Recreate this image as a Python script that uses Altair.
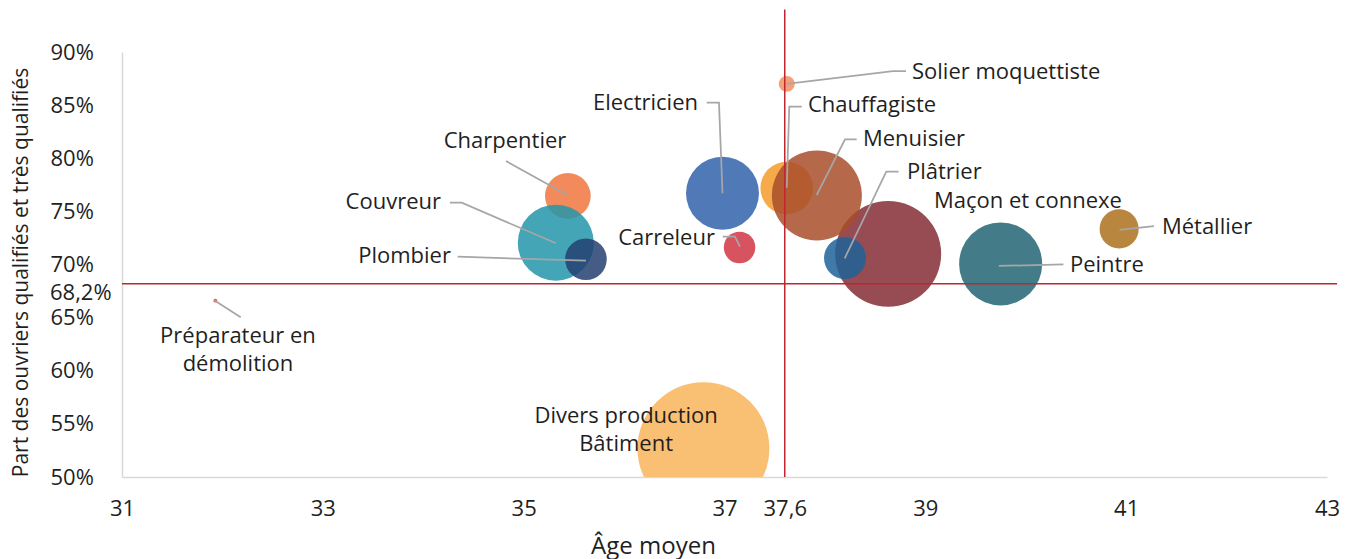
import altair as alt
import pandas as pd

# ---- Données ----
metiers = [
    "Divers production Bâtiment", "Maçon et connexe", "Peintre", "Charpentier",
    "Couvreur", "Electricien", "Chauffagiste", "Menuisier", "Plombier",
    "Plâtrier", "Métallier", "Carreleur", "Solier moquettiste",
    "Préparateur en démolition",
]
age_moyen = [36.79, 38.63, 39.75, 35.44, 35.32, 36.98, 37.62, 37.92, 35.62,
             38.20, 40.93, 37.15, 37.62, 31.93]
part_qualifies = [52.7, 71.0, 70.05, 76.45, 72.05, 76.7, 77.2, 76.5, 70.5,
                  70.6, 73.35, 71.6, 87.0, 66.6]
effectif = [68.4, 44.1, 27.1, 8.2, 22.7, 20.9, 10.9, 31.8, 6.8, 6.9, 6.0,
            3.9, 1.0, 0.06]
couleurs = ["#F8B45B", "#852B35", "#226573", "#F1753E", "#2295A9", "#3161AC",
            "#F49B2A", "#A84D2A", "#253F72", "#1D6399", "#AD711E", "#D03543",
            "#F38F60", "#DB4954"]

age_moyen_global = 37.6
part_moyenne_globale = 68.2

x_ticks = [31, 33, 35, 37, 37.6, 39, 41, 43]
y_ticks = [50, 55, 60, 65, 70, 75, 80, 85, 90]

# Étiquettes (position d'ancrage en unités des axes)
label_texte = ["Divers production\nBâtiment", "Maçon et connexe", "Peintre",
               "Charpentier", "Couvreur", "Electricien", "Chauffagiste",
               "Menuisier", "Plombier", "Plâtrier", "Métallier", "Carreleur",
               "Solier moquettiste", "Préparateur en\ndémolition"]
label_x = [36.02, 39.086, 40.44, 34.814, 34.177, 36.736, 37.831, 38.379,
           34.276, 38.817, 41.356, 36.905, 38.867, 32.155]
label_y = [55.74, 75.98, 69.95, 81.62, 75.88, 85.20, 85.01, 81.81, 70.80,
           78.71, 73.53, 72.49, 88.12, 63.27]
label_ancre = ["center", "left", "left", "center", "right", "right", "left",
               "left", "right", "left", "left", "right", "left", "center"]

# Traits de rappel (polylignes, unités des axes)
rappel_metier = (["Solier"] * 3 + ["Chauffagiste"] * 3 + ["Electricien"] * 3 +
                 ["Menuisier"] * 3 + ["Plâtrier"] * 3 + ["Métallier"] * 2 +
                 ["Peintre"] * 2 + ["Charpentier"] * 2 + ["Couvreur"] * 3 +
                 ["Plombier"] * 2 + ["Carreleur"] * 3 + ["Préparateur"] * 2)
rappel_x = [37.62, 38.677, 38.807,
            37.62, 37.645, 37.769,
            36.823, 36.945, 36.98,
            38.316, 38.200, 37.918,
            38.733, 38.611, 38.197,
            41.276, 40.935,
            40.375, 39.732,
            34.824, 35.434,
            34.266, 34.383, 35.322,
            34.343, 35.621,
            36.982, 37.104, 37.154,
            31.926, 32.182]
rappel_y = [86.99, 88.21, 88.21,
            77.23, 84.85, 84.85,
            85.23, 85.23, 76.70,
            81.78, 81.78, 76.54,
            78.73, 78.73, 70.58,
            73.62, 73.25,
            70.02, 69.86,
            79.74, 76.54,
            75.82, 75.82, 72.0,
            70.73, 70.36,
            72.62, 72.62, 71.68,
            66.59, 65.03]

# ---- Tables ----
bulles = pd.DataFrame({"metier": metiers, "x": age_moyen, "y": part_qualifies,
                       "effectif": effectif, "rang": list(range(len(metiers)))})
etiquettes = pd.DataFrame({"texte": label_texte, "x": label_x, "y": label_y,
                           "ancre": label_ancre})
rappels = pd.DataFrame({"metier": rappel_metier, "x": rappel_x, "y": rappel_y,
                        "ordre": list(range(len(rappel_x)))})
ligne_v = pd.DataFrame({"x": [age_moyen_global], "y": [50], "y2": [94]})
ligne_h = pd.DataFrame({"x": [31], "x2": [43.1], "y": [part_moyenne_globale]})
lbl_moy = pd.DataFrame({"x": [31], "y": [part_moyenne_globale],
                        "texte": ["68,2%"]})

FONT = "Open Sans"
TXT = "#1f1f1f"
FS = 22

X = alt.X("x:Q", scale=alt.Scale(domain=[31, 43], nice=False, zero=False),
          axis=alt.Axis(values=x_ticks,
                        labelExpr="replace(toString(datum.value), '.', ',')",
                        ticks=False, grid=False, domainColor="#D9D9D9",
                        domainWidth=1.5, labelPadding=21, labelFlush=False,
                        labelOverlap=False, title="Âge moyen", titleX=531,
                        titleY=76, titleBaseline="alphabetic",
                        titleAlign="center", titleFontSize=24))
Y = alt.Y("y:Q", scale=alt.Scale(domain=[50, 90], nice=False, zero=False),
          axis=alt.Axis(values=y_ticks, labelExpr="datum.value + '%'",
                        ticks=False, grid=False, domainColor="#D9D9D9",
                        domainWidth=1.5, labelAlign="left", labelPadding=72,
                        labelBaseline="middle", labelFlush=False,
                        labelOverlap=False,
                        title="Part des ouvriers qualifiés et très qualifiés",
                        titleX=-95, titleY=220, titleAngle=270,
                        titleAlign="center", titleBaseline="alphabetic",
                        titleFontSize=21))

circles = alt.Chart(bulles).mark_circle(opacity=0.85, clip=True).encode(
    x=X, y=Y,
    size=alt.Size("effectif:Q", scale=alt.Scale(domain=[0, 100],
                                                range=[0, 25465]),
                  legend=None),
    color=alt.Color("metier:N", scale=alt.Scale(domain=metiers,
                                                range=couleurs),
                    legend=None),
    order=alt.Order("rang:Q"),
)

vline = alt.Chart(ligne_v).mark_rule(color="#C0262D", strokeWidth=1.5,
                                     clip=False).encode(
    x=X, y=Y, y2="y2:Q")
hline = alt.Chart(ligne_h).mark_rule(color="#C0262D", strokeWidth=1.5,
                                     clip=False).encode(
    x=X, x2="x2:Q", y=Y)

leaders = alt.Chart(rappels).mark_line(color="#A6A6A6", strokeWidth=1.75,
                                       clip=False).encode(
    x=X, y=Y, detail="metier:N", order="ordre:Q")

def text_layer(anchor):
    return alt.Chart(etiquettes).transform_filter(
        alt.datum.ancre == anchor
    ).mark_text(align=anchor, baseline="middle", font=FONT, fontSize=FS,
                color=TXT, lineBreak="\n", lineHeight=28).encode(
        x=X, y=Y, text="texte:N")

moy_label = alt.Chart(lbl_moy).mark_text(
    align="left", baseline="middle", font=FONT, fontSize=FS, color=TXT,
    dx=-72, dy=9.5).encode(x=X, y=Y, text="texte:N")

chart = alt.layer(
    circles, vline, hline, leaders,
    text_layer("left"), text_layer("right"), text_layer("center"), moy_label,
).properties(
    width=1205, height=425,
    autosize=alt.AutoSizeParams(type="none"),
    padding={"left": 114, "top": 44, "right": 17, "bottom": 82},
).configure_view(stroke=None).configure_axis(
    labelFont=FONT, labelFontSize=FS, labelColor=TXT,
    titleFont=FONT, titleFontSize=FS, titleColor=TXT, titleFontWeight="normal",
)

chart.save("out.html", embed_options={"renderer": "svg", "actions": False})
